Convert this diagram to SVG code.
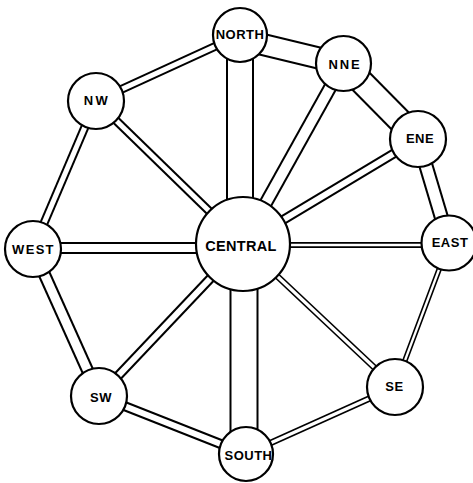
<svg xmlns="http://www.w3.org/2000/svg" width="473" height="483" viewBox="0 0 473 483">
  <style>
    .po { stroke: #000; stroke-linecap: butt; fill: none; }
    .pi { stroke: #fff; stroke-linecap: butt; fill: none; }
    .node circle { fill: #fff; stroke: #000; stroke-width: 2.2; }
    .node text { font-family: "Liberation Sans", Arial, sans-serif; font-weight: bold; font-size: 13px; text-anchor: middle; fill: #000; letter-spacing: 0.5px; }
  </style>
  <rect width="473" height="483" fill="#fff"/>

  <!-- pipes: black outer band, white core leaves the two walls -->
  <g id="connectors">
    <g id="pipe-outer">
      <line class="po" x1="240" y1="35" x2="240" y2="244" stroke-width="28"/>
      <line class="po" x1="244" y1="244" x2="244" y2="454" stroke-width="29"/>
      <line class="po" x1="240" y1="39" x2="343.5" y2="64" stroke-width="23"/>
      <line class="po" x1="343.5" y1="63.5" x2="418" y2="139" stroke-width="26"/>
      <line class="po" x1="418" y1="139" x2="449" y2="243" stroke-width="15"/>
      <line class="po" x1="449" y1="243" x2="395" y2="387" stroke-width="5.5"/>
      <line class="po" x1="395" y1="387" x2="246" y2="454" stroke-width="6.5"/>
      <line class="po" x1="246" y1="454" x2="99" y2="396" stroke-width="10"/>
      <line class="po" x1="99" y1="396" x2="33" y2="249" stroke-width="13"/>
      <line class="po" x1="33" y1="249" x2="96" y2="101" stroke-width="9"/>
      <line class="po" x1="96" y1="101" x2="240" y2="35" stroke-width="9"/>
      <line class="po" x1="96" y1="101" x2="243" y2="244" stroke-width="9"/>
      <line class="po" x1="343.5" y1="63.5" x2="243" y2="244" stroke-width="14"/>
      <line class="po" x1="418" y1="139" x2="243" y2="244" stroke-width="10"/>
      <line class="po" x1="243" y1="245" x2="449" y2="245" stroke-width="6"/>
      <line class="po" x1="395" y1="387" x2="243" y2="244" stroke-width="6.5"/>
      <line class="po" x1="99" y1="396" x2="243" y2="244" stroke-width="10"/>
      <line class="po" x1="33" y1="248" x2="243" y2="248" stroke-width="12"/>
    </g>
    <g id="pipe-inner">
      <line class="pi" x1="240" y1="35" x2="240" y2="244" stroke-width="24"/>
      <line class="pi" x1="244" y1="244" x2="244" y2="454" stroke-width="25"/>
      <line class="pi" x1="240" y1="39" x2="343.5" y2="64" stroke-width="19"/>
      <line class="pi" x1="343.5" y1="63.5" x2="418" y2="139" stroke-width="22"/>
      <line class="pi" x1="418" y1="139" x2="449" y2="243" stroke-width="11"/>
      <line class="pi" x1="449" y1="243" x2="395" y2="387" stroke-width="2.3"/>
      <line class="pi" x1="395" y1="387" x2="246" y2="454" stroke-width="3.2"/>
      <line class="pi" x1="246" y1="454" x2="99" y2="396" stroke-width="6"/>
      <line class="pi" x1="99" y1="396" x2="33" y2="249" stroke-width="9"/>
      <line class="pi" x1="33" y1="249" x2="96" y2="101" stroke-width="5"/>
      <line class="pi" x1="96" y1="101" x2="240" y2="35" stroke-width="5"/>
      <line class="pi" x1="96" y1="101" x2="243" y2="244" stroke-width="5"/>
      <line class="pi" x1="343.5" y1="63.5" x2="243" y2="244" stroke-width="10"/>
      <line class="pi" x1="418" y1="139" x2="243" y2="244" stroke-width="6"/>
      <line class="pi" x1="243" y1="245" x2="449" y2="245" stroke-width="2.6"/>
      <line class="pi" x1="395" y1="387" x2="243" y2="244" stroke-width="3.2"/>
      <line class="pi" x1="99" y1="396" x2="243" y2="244" stroke-width="6"/>
      <line class="pi" x1="33" y1="248" x2="243" y2="248" stroke-width="8"/>
    </g>
  </g>

  <g id="central" class="node">
    <circle cx="243" cy="244" r="47"/>
    <text x="241" y="251" style="font-size:14.5px;letter-spacing:0.3px">CENTRAL</text>
  </g>
  <g id="north" class="node">
    <circle cx="240" cy="35" r="27"/>
    <text x="240" y="38.5">NORTH</text>
  </g>
  <g id="nne" class="node">
    <circle cx="343.5" cy="63.5" r="27.5"/>
    <text x="345" y="68.5" style="letter-spacing:1.8px">NNE</text>
  </g>
  <g id="ene" class="node">
    <circle cx="418" cy="139" r="28"/>
    <text x="420" y="143">ENE</text>
  </g>
  <g id="east" class="node">
    <circle cx="449" cy="243" r="27.5"/>
    <text x="450" y="247">EAST</text>
  </g>
  <g id="se" class="node">
    <circle cx="395" cy="387" r="28"/>
    <text x="394.5" y="391">SE</text>
  </g>
  <g id="south" class="node">
    <circle cx="246" cy="454" r="27"/>
    <text x="248.5" y="459.5">SOUTH</text>
  </g>
  <g id="sw" class="node">
    <circle cx="99" cy="396" r="28"/>
    <text x="101" y="401.5">SW</text>
  </g>
  <g id="west" class="node">
    <circle cx="33" cy="249" r="28"/>
    <text x="33.5" y="254" style="letter-spacing:1.3px">WEST</text>
  </g>
  <g id="nw" class="node">
    <circle cx="96" cy="101" r="28"/>
    <text x="97" y="105" style="letter-spacing:2.5px">NW</text>
  </g>
</svg>
